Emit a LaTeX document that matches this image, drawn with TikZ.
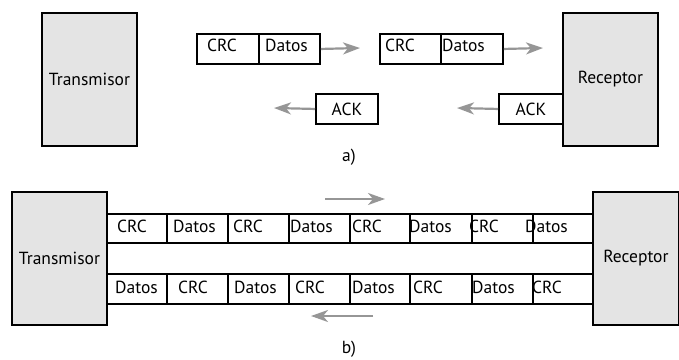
\documentclass[tikz,border=0pt]{standalone}
\usepackage{fontspec}
\setmainfont{PT Sans}
\usetikzlibrary{arrows.meta}
\definecolor{boxgray}{RGB}{228,228,228}
\definecolor{flowgray}{RGB}{150,150,150}
\begin{document}
\begin{tikzpicture}[x=1pt,y=-1pt,
  box/.style={draw=black,line width=1.9pt,fill=boxgray,inner sep=0pt,anchor=north west,
    minimum width=95pt,minimum height=133pt,font=\fontsize{17.5}{20}\selectfont},
  cell/.style={draw=black,line width=1.9pt,fill=white,inner sep=0pt,anchor=north west,
    minimum height=30pt,font=\fontsize{17.5}{20}\selectfont},
  lbl/.style={inner sep=0pt,anchor=west,font=\fontsize{17.5}{20}\selectfont},
  partlbl/.style={inner sep=0pt,font=\fontsize{17.5}{20}\selectfont},
  flow/.style={draw=flowgray,line width=2.2pt,-{Stealth[length=17pt,width=12pt,inset=5pt]}},
]
\useasboundingbox (0,0) rectangle (679,359);

% ---------- a) ----------
\node[box] (ta) at (41,12) {Transmisor};
\node[box] (ra) at (562,12) {Receptor};

\node[cell,minimum width=62pt] (c1) at (196,33) {};
\node[cell,minimum width=61pt] (c2) at (258,33) {};
\node[lbl] (c1t) at (207,45) {CRC};
\node[lbl] (c2t) at (265,45) {Datos};
\node[cell,minimum width=61pt] (c3) at (379,33) {};
\node[cell,minimum width=62pt] (c4) at (440,33) {};
\node[lbl] (c3t) at (385,45) {CRC};
\node[lbl] (c4t) at (442,45) {Datos};

\node[cell,minimum width=62pt] (ack1) at (315,93) {ACK};
\node[cell,minimum width=64pt] (ack2) at (498,93) {ACK};

\coordinate (e1) at (360,48);
\coordinate (e2) at (543,48);
\coordinate (e3) at (274,108);
\coordinate (e4) at (457,108);
\draw[flow] (c2.east) -- (e1);
\draw[flow] (c4.east) -- (e2);
\draw[flow] (ack1.west) -- (e3);
\draw[flow] (ack2.west) -- (e4);

\node[partlbl] (la) at (349,157) {a)};

% ---------- b) ----------
\node[box] (tb) at (11,191) {Transmisor};
\node[box,minimum width=86pt] (rb) at (592,191) {Receptor};

\foreach \x/\w [count=\i] in {106/60,166/61,227/61,288/61,349/60,409/62,471/61,532/60}{
  \node[cell,minimum width=\w pt,minimum height=29pt] (u\i) at (\x,213) {};
  \node[cell,minimum width=\w pt,minimum height=30pt] (d\i) at (\x,273) {};
}

\foreach \x/\t [count=\i] in {117/CRC,173/Datos,233/CRC,290/Datos,352/CRC,409/Datos,469/CRC,525/Datos}{
  \node[lbl] (ut\i) at (\x,226) {\t};
}
\foreach \x/\t [count=\i] in {115/Datos,178/CRC,234/Datos,295/CRC,352/Datos,413/CRC,472/Datos,532/CRC}{
  \node[lbl] (dt\i) at (\x,287) {\t};
}

\coordinate (s1) at (325,199);
\coordinate (s2) at (385,199);
\coordinate (s3) at (373,316);
\coordinate (s4) at (311,316);
\draw[flow] (s1) -- (s2);
\draw[flow] (s3) -- (s4);

\node[partlbl] (lb) at (349,349) {b)};
\end{tikzpicture}
\end{document}
